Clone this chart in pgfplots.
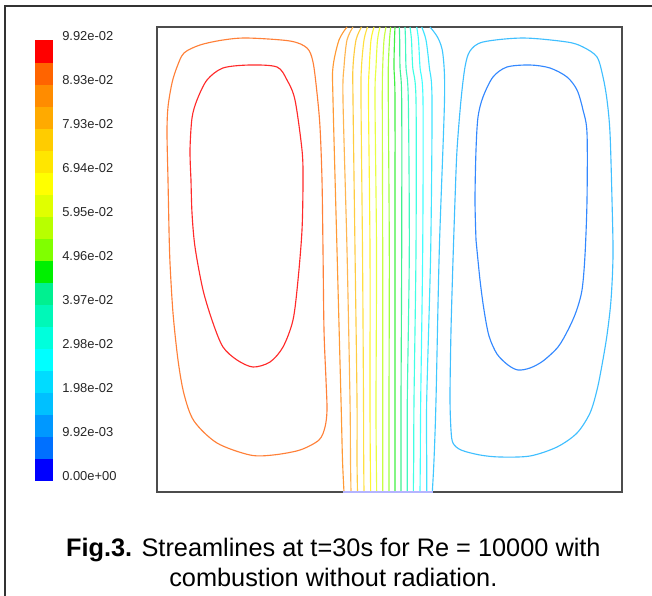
\documentclass[border=0pt]{standalone}
\usepackage{pgfplots}
\pgfplotsset{compat=1.18}
\usepackage{fontspec}
\setmainfont{Liberation Sans}

% colour bar levels, bottom to top
\definecolor{cb1}{HTML}{0000FF}
\definecolor{cb2}{HTML}{0070FF}
\definecolor{cb3}{HTML}{0098FF}
\definecolor{cb4}{HTML}{00C0FF}
\definecolor{cb5}{HTML}{00DCFF}
\definecolor{cb6}{HTML}{00FFFF}
\definecolor{cb7}{HTML}{00FFDC}
\definecolor{cb8}{HTML}{00F8B8}
\definecolor{cb9}{HTML}{00F090}
\definecolor{cb10}{HTML}{00F000}
\definecolor{cb11}{HTML}{80FF00}
\definecolor{cb12}{HTML}{B8FF00}
\definecolor{cb13}{HTML}{E0FF00}
\definecolor{cb14}{HTML}{FFFF00}
\definecolor{cb15}{HTML}{FFE600}
\definecolor{cb16}{HTML}{FFCC00}
\definecolor{cb17}{HTML}{FFAA00}
\definecolor{cb18}{HTML}{FF8C00}
\definecolor{cb19}{HTML}{FF6400}
\definecolor{cb20}{HTML}{FF0000}

% streamline colours
\definecolor{sred}{HTML}{FF2A2A}
\definecolor{sorange}{HTML}{FF8038}
\definecolor{sblue}{HTML}{3388FF}
\definecolor{slblue}{HTML}{40BFFF}
\definecolor{ml1}{HTML}{FF9A35}
\definecolor{ml2}{HTML}{FFB550}
\definecolor{ml3}{HTML}{FFCC40}
\definecolor{ml4}{HTML}{FFE040}
\definecolor{ml5}{HTML}{FFF530}
\definecolor{ml6}{HTML}{E8FF40}
\definecolor{ml7}{HTML}{C8FF40}
\definecolor{ml8}{HTML}{A0FF40}
\definecolor{ml9}{HTML}{40F040}
\definecolor{ml10}{HTML}{40F090}
\definecolor{ml11}{HTML}{40F8C0}
\definecolor{ml12}{HTML}{40FFE4}
\definecolor{ml13}{HTML}{40FFFF}
\definecolor{ml14}{HTML}{40E4FF}
\definecolor{ml15}{HTML}{40C8FF}
\definecolor{inlet}{HTML}{B4B4FF}

\begin{document}
\begin{tikzpicture}
\useasboundingbox (0,0) rectangle (489pt,-446.25pt);
\draw[line width=1.5pt, black!80] (3.75pt,-460pt) -- (3.75pt,-4.5pt) -- (500pt,-4.5pt);

% colour bar
\begin{axis}[
  at={(26.25pt,-30pt)}, anchor=north west,
  scale only axis, width=13.5pt, height=330pt,
  xmin=0, xmax=1, ymin=0, ymax=20,
  hide x axis, axis y line*=right, y axis line style={draw=none},
  ytick={0,2,...,20},
  yticklabels={0.00e+00,9.92e-03,1.98e-02,2.98e-02,3.97e-02,4.96e-02,5.95e-02,6.94e-02,7.93e-02,8.93e-02,9.92e-02},
  major tick length=0pt,
  yticklabel style={font=\fontsize{9.7}{10}\selectfont, text=black!85, anchor=west, inner sep=0pt, xshift=6.75pt, yshift=3pt},
]
\addplot[fill=cb1, draw=cb1, line width=0.1pt] coordinates {(0,0) (1,0) (1,1) (0,1)} -- cycle;
\addplot[fill=cb2, draw=cb2, line width=0.1pt] coordinates {(0,1) (1,1) (1,2) (0,2)} -- cycle;
\addplot[fill=cb3, draw=cb3, line width=0.1pt] coordinates {(0,2) (1,2) (1,3) (0,3)} -- cycle;
\addplot[fill=cb4, draw=cb4, line width=0.1pt] coordinates {(0,3) (1,3) (1,4) (0,4)} -- cycle;
\addplot[fill=cb5, draw=cb5, line width=0.1pt] coordinates {(0,4) (1,4) (1,5) (0,5)} -- cycle;
\addplot[fill=cb6, draw=cb6, line width=0.1pt] coordinates {(0,5) (1,5) (1,6) (0,6)} -- cycle;
\addplot[fill=cb7, draw=cb7, line width=0.1pt] coordinates {(0,6) (1,6) (1,7) (0,7)} -- cycle;
\addplot[fill=cb8, draw=cb8, line width=0.1pt] coordinates {(0,7) (1,7) (1,8) (0,8)} -- cycle;
\addplot[fill=cb9, draw=cb9, line width=0.1pt] coordinates {(0,8) (1,8) (1,9) (0,9)} -- cycle;
\addplot[fill=cb10, draw=cb10, line width=0.1pt] coordinates {(0,9) (1,9) (1,10) (0,10)} -- cycle;
\addplot[fill=cb11, draw=cb11, line width=0.1pt] coordinates {(0,10) (1,10) (1,11) (0,11)} -- cycle;
\addplot[fill=cb12, draw=cb12, line width=0.1pt] coordinates {(0,11) (1,11) (1,12) (0,12)} -- cycle;
\addplot[fill=cb13, draw=cb13, line width=0.1pt] coordinates {(0,12) (1,12) (1,13) (0,13)} -- cycle;
\addplot[fill=cb14, draw=cb14, line width=0.1pt] coordinates {(0,13) (1,13) (1,14) (0,14)} -- cycle;
\addplot[fill=cb15, draw=cb15, line width=0.1pt] coordinates {(0,14) (1,14) (1,15) (0,15)} -- cycle;
\addplot[fill=cb16, draw=cb16, line width=0.1pt] coordinates {(0,15) (1,15) (1,16) (0,16)} -- cycle;
\addplot[fill=cb17, draw=cb17, line width=0.1pt] coordinates {(0,16) (1,16) (1,17) (0,17)} -- cycle;
\addplot[fill=cb18, draw=cb18, line width=0.1pt] coordinates {(0,17) (1,17) (1,18) (0,18)} -- cycle;
\addplot[fill=cb19, draw=cb19, line width=0.1pt] coordinates {(0,18) (1,18) (1,19) (0,19)} -- cycle;
\addplot[fill=cb20, draw=cb20, line width=0.1pt] coordinates {(0,19) (1,19) (1,20) (0,20)} -- cycle;
\end{axis}

% streamlines, in pixel coordinates of the domain
\begin{axis}[
  at={(117.75pt,-20.25pt)}, anchor=north west,
  scale only axis, width=348.75pt, height=348.75pt,
  xmin=157, xmax=622, ymin=27, ymax=492, y dir=reverse,
  ticks=none, clip=false,
  axis line style={line width=0.8pt, black!70},
  every axis plot/.append style={line width=0.85pt, smooth, tension=0.5},
]
% left vortex
\addplot[sorange] coordinates {(169,230) (168,180) (167,133) (168,107) (172,83) (177,67) (184,53) (200,45) (223,40) (247,38) (290,41) (307,48) (313,62) (317,93) (320,127) (322,180) (323,250) (324,330) (326,380) (327,410) (325,427) (319,440) (300,450) (273,455) (250,455) (217,443) (194,421) (184,394) (178,360) (173,313) (170,263) (169,230)};
\addplot[sred] coordinates {(191,180) (190,150) (192,118) (197,100) (207,80) (223,68) (250,65) (277,67) (287,80) (295,100) (302,150) (303,180) (302,230) (298,280) (293,320) (283,347) (270,362) (253,367) (237,360) (223,347) (213,323) (203,290) (195,247) (192,213) (191,180)};
% right vortex
\addplot[slblue] coordinates {(453,260) (455,200) (457,150) (461,100) (465,67) (470,51) (483,42) (523,38) (567,42) (583,47) (597,57) (603,77) (607,100) (610,133) (612,200) (613,255) (611,300) (607,335) (602,365) (597,390) (590,413) (577,433) (557,447) (530,456) (500,457) (480,455) (461,450) (453,443) (451,430) (450,397) (451,330) (453,260)};
\addplot[sblue] coordinates {(476,240) (475,200) (476,150) (478,117) (483,97) (493,77) (507,67) (530,65) (550,68) (567,77) (577,90) (583,110) (587,133) (587,200) (585,255) (582,290) (576,312) (568,330) (558,347) (543,361) (530,368) (518,370) (508,365) (497,354) (489,336) (484,310) (480,280) (476,240)};
% through-flow lines
\addplot[ml1] coordinates {(347,27) (339,40) (333,67) (333,100) (337,250) (341,400) (342.5,460) (344,492)};
\addplot[ml2] coordinates {(353,27) (347,40) (344,67) (343,100) (347,250) (350,400) (350.5,460) (351,492)};
\addplot[ml3] coordinates {(361.5,27) (356,40) (353,67) (353,100) (355,250) (357,400) (357,460) (357.5,492)};
\addplot[ml4] coordinates {(367.5,27) (364,40) (361.5,67) (361,100) (362.5,250) (363.5,400) (363.7,460) (364,492)};
\addplot[ml5] coordinates {(374,27) (371,40) (369.3,67) (368.5,100) (370,250) (370,400) (370.3,460) (370.7,492)};
\addplot[ml6] coordinates {(380,27) (377.5,40) (376,67) (375,100) (376.5,250) (376,400) (376.3,460) (376.7,492)};
\addplot[ml7] coordinates {(386,27) (384,40) (382.7,67) (382.3,100) (382.7,250) (382.7,400) (382.7,460) (382.7,492)};
\addplot[ml8] coordinates {(390.7,27) (389.5,40) (388.3,67) (388.3,100) (389.3,250) (389,400) (389,460) (389,492)};
\addplot[ml9] coordinates {(395,27) (394.5,40) (394,67) (395,100) (395,250) (395,400) (395,460) (395,492)};
\addplot[ml10] coordinates {(399.3,27) (399.7,40) (400,67) (401.7,100) (401.7,250) (401,400) (401,460) (401,492)};
\addplot[ml11] coordinates {(405,27) (405.5,40) (406,67) (408.3,100) (409.3,250) (407.3,400) (407.3,460) (407.3,492)};
\addplot[ml12] coordinates {(410,27) (411.5,40) (412.7,67) (416,100) (416,250) (414,400) (413.7,460) (413.3,492)};
\addplot[ml13] coordinates {(416.7,27) (418.5,40) (420,67) (423,100) (422.7,250) (420.7,400) (420.3,460) (420,492)};
\addplot[ml14] coordinates {(421.7,27) (426,40) (429.3,67) (432,100) (430.7,250) (426.7,400) (426.7,460) (426.7,492)};
\addplot[ml15] coordinates {(430,27) (438,38) (443,55) (444.5,100) (439.3,250) (436,400) (434,460) (432.3,492)};
% inlet edge
\addplot[inlet, line width=1.5pt] coordinates {(343,492) (433,492)};
\end{axis}

\node[anchor=base, font=\fontsize{19}{22}\selectfont] at (250pt,-417pt) {\textbf{Fig.3.} Streamlines at t=30s for Re = 10000 with};
\node[anchor=base, font=\fontsize{19}{22}\selectfont] at (250pt,-439.5pt) {combustion without radiation.};
\end{tikzpicture}
\end{document}
